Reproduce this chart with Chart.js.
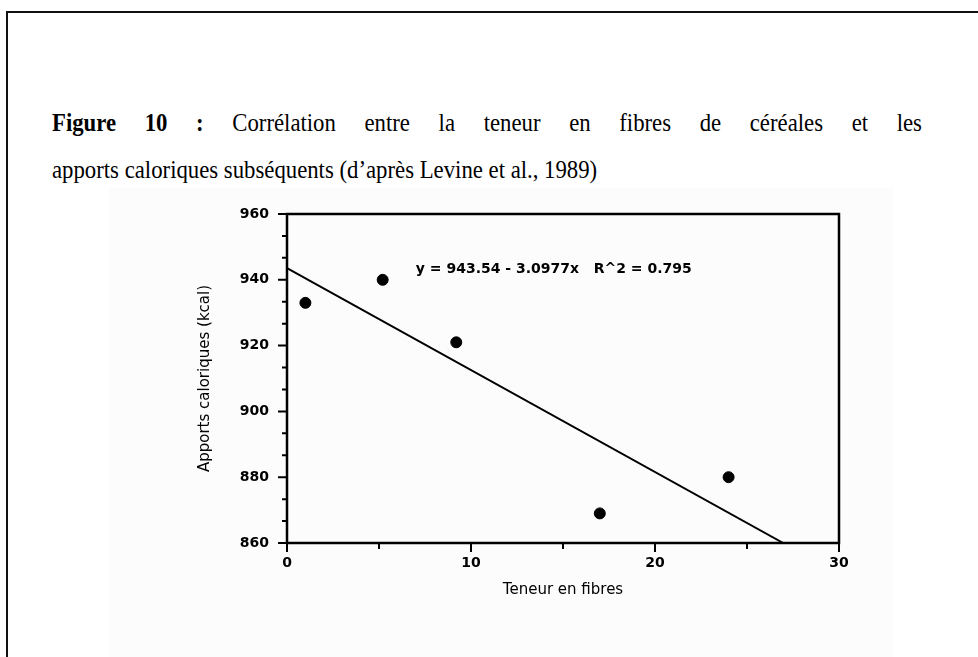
<!DOCTYPE html>
<html><head><meta charset="utf-8">
<script src="https://cdn.jsdelivr.net/npm/chart.js@4/dist/chart.umd.min.js"></script>
<style>
html,body{margin:0;padding:0;background:#fff;width:978px;height:657px;overflow:hidden;}
#frame{position:absolute;left:6px;top:11px;width:1100px;height:800px;border:2px solid #111;box-sizing:border-box;}
#bg{position:absolute;left:109px;top:188px;width:784px;height:469px;background:#fcfcfc;}
.t{position:absolute;left:52px;font-family:"Liberation Serif","Times New Roman",serif;font-size:25px;line-height:30px;color:#000;transform:scaleX(0.91);transform-origin:0 0;}
#l1{top:108px;width:956px;text-align:justify;text-align-last:justify;}
#l2{top:155px;white-space:nowrap;}
#c{position:absolute;left:0;top:0;}
</style></head>
<body>
<div id="frame"></div>
<div id="bg"></div>
<div class="t" id="l1"><b>Figure 10 :</b> Corrélation entre la teneur en fibres de céréales et les</div>
<div class="t" id="l2">apports caloriques subséquents (d’après Levine et al., 1989)</div>
<canvas id="c" width="978" height="657"></canvas>
<script>
// Data
const fibreX = [1.0, 5.2, 9.2, 17.0, 24.0];
const kcalY  = [933, 940, 921, 869, 880];
// Regression line endpoints (as drawn: from x = 0 to where it meets the x-axis)
const fitX = [0, 26.97];
const fitY = [943.54, 860];
const equationText = 'y = 943.54 - 3.0977x   R^2 = 0.795';
const equationPos = [7.0, 943.3];
const xTickLabels = [0, 10, 20, 30];
const yTickLabels = [860, 880, 900, 920, 940, 960];
const xMinorTicks = [5, 15, 25];
const yMinorPerMajor = 3;

const SANS = '"DejaVu Sans", Verdana, sans-serif';

const boxPlugin = {
  id: 'box',
  afterDraw(chart) {
    const {ctx, chartArea: a, scales: {x, y}} = chart;
    ctx.save();
    ctx.strokeStyle = '#000';
    ctx.lineWidth = 2.5;
    ctx.strokeRect(a.left, a.top, a.right - a.left, a.bottom - a.top);
    ctx.lineWidth = 2;
    ctx.beginPath();
    xTickLabels.forEach(v => { const px = x.getPixelForValue(v); ctx.moveTo(px, a.bottom); ctx.lineTo(px, a.bottom + 9); });
    xMinorTicks.forEach(v => { const px = x.getPixelForValue(v); ctx.moveTo(px, a.bottom); ctx.lineTo(px, a.bottom + 6); });
    for (let i = 0; i < yTickLabels.length; i++) {
      const v = yTickLabels[i];
      const py = y.getPixelForValue(v);
      ctx.moveTo(a.left, py); ctx.lineTo(a.left - 9, py);
      if (i < yTickLabels.length - 1) {
        const step = (yTickLabels[i + 1] - v) / yMinorPerMajor;
        for (let k = 1; k < yMinorPerMajor; k++) {
          const pm = y.getPixelForValue(v + k * step);
          ctx.moveTo(a.left, pm); ctx.lineTo(a.left - 5, pm);
        }
      }
    }
    ctx.stroke();
    ctx.fillStyle = '#000';
    ctx.font = 'bold 14px ' + SANS;
    ctx.textBaseline = 'middle';
    ctx.textAlign = 'left';
    ctx.fillText(equationText, x.getPixelForValue(equationPos[0]), y.getPixelForValue(equationPos[1]));
    ctx.restore();
  }
};

new Chart(document.getElementById('c'), {
  type: 'scatter',
  data: {
    datasets: [
      {
        label: 'Apports',
        data: fibreX.map((v, i) => ({x: v, y: kcalY[i]})),
        backgroundColor: '#000', borderColor: '#000',
        pointRadius: 5.5, pointHoverRadius: 5.5, showLine: false
      },
      {
        label: 'Régression',
        data: fitX.map((v, i) => ({x: v, y: fitY[i]})),
        borderColor: '#000', borderWidth: 2, pointRadius: 0, showLine: true, fill: false
      }
    ]
  },
  options: {
    responsive: false, animation: false, devicePixelRatio: 1,
    layout: {padding: {left: 0, top: 214, right: 139, bottom: 0}},
    plugins: {legend: {display: false}, tooltip: {enabled: false}},
    scales: {
      x: {
        type: 'linear', min: 0, max: 30,
        ticks: {stepSize: 10, color: '#000', padding: 12, font: {family: SANS, size: 14, weight: 'bold'}},
        grid: {display: false, drawTicks: false},
        border: {display: false},
        title: {display: true, text: 'Teneur en fibres', color: '#000', font: {family: SANS, size: 15}, padding: {top: 0, bottom: 58}},
        afterFit: s => { s.height = 114; }
      },
      y: {
        type: 'linear', min: 860, max: 960,
        ticks: {stepSize: 20, color: '#000', padding: 18, font: {family: SANS, size: 14, weight: 'bold'}},
        grid: {display: false, drawTicks: false},
        border: {display: false},
        title: {display: true, text: 'Apports caloriques (kcal)', color: '#000', font: {family: SANS, size: 15}, padding: {top: 196, bottom: 0}},
        afterFit: s => { s.width = 287; }
      }
    }
  },
  plugins: [boxPlugin]
});
</script>
</body></html>
